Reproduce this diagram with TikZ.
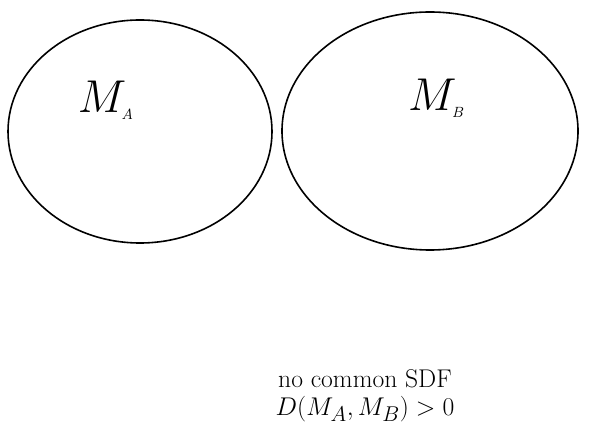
\documentclass[tikz,border=0pt]{standalone}
\usetikzlibrary{shapes.geometric}
\begin{document}
\begin{tikzpicture}[x=1pt,y=1pt,every node/.style={font=\Huge}]
    \useasboundingbox (0,0) rectangle (596,436);
    % Dos conjuntos disjuntos: no hay SDF comun.
    \node[draw,ellipse,line width=1.6pt,minimum width=264pt,minimum height=223pt,inner sep=0pt] (MA) at (140,304.5) {};
    \node[draw,ellipse,line width=1.6pt,minimum width=296pt,minimum height=238pt,inner sep=0pt] (MB) at (430,305) {};
    \node[scale=1.85] (labA) at (106,336) {$M_{\hbox{\footnotesize\itshape A}}$};
    \node[scale=1.85] (labB) at (436,338) {$M_{\hbox{\footnotesize\itshape B}}$};

    % Leyenda inferior.
    \node[scale=1.03,align=center] (txt) at (365,40) {no common SDF\\[-3pt] $D(M_A,M_B)>0$};
\end{tikzpicture}
\end{document}
